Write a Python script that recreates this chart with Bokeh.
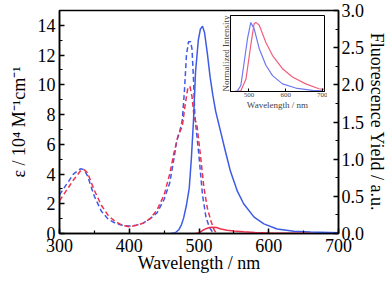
from bokeh.plotting import figure
from bokeh.models import Range1d, LinearAxis, SingleIntervalTicker, FixedTicker, PrintfTickFormatter
from bokeh.layouts import column
from bokeh.embed import file_html
from bokeh.resources import INLINE

# Absorption (epsilon, 10^4 M^-1 cm^-1), dashed
abs_b_wl = [300, 310, 320, 330, 335, 340, 350, 360, 370, 380, 390, 400, 410, 420, 430, 440, 450, 458, 464,
            468, 472, 476, 479, 482, 485, 488, 490, 492, 494, 496, 500, 505, 510, 515, 520]
abs_b = [2.6, 3.3, 4.0, 4.35, 4.3, 3.9, 2.5, 1.5, 0.95, 0.7, 0.55, 0.5, 0.55, 0.7, 1.0, 1.4, 2.3, 3.4, 5.0,
         6.2, 6.8, 7.6, 9.5, 12.0, 12.9, 12.9, 12.4, 10.5, 8.0, 7.0, 5.2, 2.6, 1.1, 0.4, 0.05]
abs_r_wl = [300, 310, 320, 330, 335, 340, 350, 360, 370, 380, 390, 400, 410, 420, 430, 440, 450, 458, 464,
            470, 476, 480, 484, 487, 490, 493, 497, 502, 507, 512, 517, 522, 526]
abs_r = [2.2, 2.9, 3.6, 4.2, 4.3, 4.1, 2.9, 1.9, 1.2, 0.8, 0.55, 0.45, 0.55, 0.7, 1.0, 1.6, 2.6, 4.0, 5.4,
         6.6, 7.2, 8.6, 9.8, 9.9, 9.2, 7.8, 7.3, 5.3, 3.1, 1.7, 0.85, 0.2, 0.0]

# Fluorescence yield (a.u.), solid
fl_b_wl = [460, 466, 471, 475, 478, 482, 486, 489, 492, 495, 499, 502, 505, 508, 512, 516, 520, 524, 531,
           538, 545, 555, 564, 579, 593, 612, 636, 660, 700]
fl_b = [0.0, 0.01, 0.05, 0.12, 0.21, 0.38, 0.61, 1.0, 1.5, 2.17, 2.6, 2.75, 2.79, 2.7, 2.42, 2.1, 1.85, 1.64, 1.37,
        1.1, 0.84, 0.57, 0.4, 0.22, 0.13, 0.06, 0.03, 0.02, 0.01]
fl_r_wl = [495, 500, 505, 510, 515, 520, 525, 530, 540, 550, 564, 580, 600, 630, 660]
fl_r = [0.0, 0.01, 0.04, 0.065, 0.08, 0.083, 0.08, 0.065, 0.045, 0.035, 0.025, 0.015, 0.008, 0.004, 0.002]

# Inset: normalized emission
in_b_wl = [460, 469, 478, 487, 496, 505, 514, 528, 546, 564, 591, 627, 672, 700]
in_b = [0.0, 0.01, 0.087, 0.42, 0.76, 1.0, 0.91, 0.62, 0.38, 0.23, 0.11, 0.05, 0.015, 0.01]
in_r_wl = [465, 478, 492, 505, 514, 519, 528, 546, 564, 591, 618, 654, 690, 705]
in_r = [0.0, 0.01, 0.18, 0.67, 0.98, 1.0, 0.96, 0.71, 0.52, 0.33, 0.21, 0.11, 0.04, 0.03]

BLUE = "#3e5be6"
RED = "#ee3050"
FONT = "Liberation Serif"

p = figure(width=390, height=281, x_range=Range1d(300, 700), y_range=Range1d(0, 15),
           output_backend="svg", toolbar_location=None,
           min_border_left=59, min_border_right=52, min_border_top=10, min_border_bottom=48)
p.frame_align = False
p.grid.visible = False
p.outline_line_color = "black"
p.outline_line_width = 1.5
p.background_fill_color = "white"
p.border_fill_color = "white"

p.extra_y_ranges = {"fl": Range1d(0, 3)}
raxis = LinearAxis(y_range_name="fl", axis_label="Fluorescence Yield / a.u.")
p.add_layout(raxis, "right")

p.xaxis.ticker = SingleIntervalTicker(interval=100, num_minor_ticks=2)
p.yaxis[0].ticker = SingleIntervalTicker(interval=2, num_minor_ticks=2)
raxis.ticker = SingleIntervalTicker(interval=0.5, num_minor_ticks=2)
raxis.formatter = PrintfTickFormatter(format="%.1f")

p.xaxis.axis_label = "Wavelength / nm"
p.yaxis[0].axis_label = "\u03b5 / 10\u2074 M\u207b\u00b9cm\u207b\u00b9"

for ax in [p.xaxis[0], p.yaxis[0], raxis]:
    ax.major_tick_in = 5
    ax.major_tick_out = 0
    ax.minor_tick_in = 3
    ax.minor_tick_out = 0
    ax.axis_line_width = 1.5
    ax.major_tick_line_width = 1.5
    ax.minor_tick_line_width = 1.2
    ax.major_label_text_font = FONT
    ax.major_label_text_font_size = "18px"
    ax.major_label_text_color = "black"
    ax.axis_label_text_font = FONT
    ax.axis_label_text_font_size = "18px"
    ax.axis_label_text_font_style = "normal"
    ax.axis_label_text_color = "black"
    ax.major_label_standoff = 4
    ax.axis_label_standoff = 6
p.xaxis[0].major_label_standoff = 5
p.xaxis[0].axis_label_standoff = -2
raxis.major_label_standoff = 3
raxis.axis_label_standoff = 0

p.line(abs_b_wl, abs_b, line_color=BLUE, line_width=1.5, line_dash="5 3")
p.line(abs_r_wl, abs_r, line_color=RED, line_width=1.5, line_dash="5 3")
p.line(fl_b_wl, fl_b, line_color=BLUE, line_width=1.5, y_range_name="fl")
p.line(fl_r_wl, fl_r, line_color=RED, line_width=1.5, y_range_name="fl")

# Inset
q = figure(frame_width=94, frame_height=76, x_range=Range1d(450, 705), y_range=Range1d(0, 1.1),
           output_backend="svg", toolbar_location=None,
           min_border_left=14, min_border_right=3, min_border_top=3, min_border_bottom=18)
q.frame_align = False
q.grid.visible = False
q.outline_line_color = "black"
q.outline_line_width = 1
q.background_fill_color = "white"
q.border_fill_alpha = 0
q.xaxis.ticker = FixedTicker(ticks=[500, 600, 700])
q.yaxis.ticker = FixedTicker(ticks=[])
q.xaxis.axis_label = "Wavelength / nm"
q.yaxis.axis_label = "Normalized Intensity"
for ax in [q.xaxis[0], q.yaxis[0]]:
    ax.major_tick_in = 3
    ax.major_tick_out = 0
    ax.minor_tick_in = 0
    ax.minor_tick_out = 0
    ax.axis_line_width = 1
    ax.major_label_text_font = FONT
    ax.major_label_text_font_size = "7px"
    ax.major_label_standoff = 1
    ax.axis_label_text_font = FONT
    ax.axis_label_text_font_size = "9px"
    ax.axis_label_text_font_style = "normal"
    ax.axis_label_standoff = 0
q.line(in_b_wl, in_b, line_color="#6f78f0", line_width=1.2)
q.line(in_r_wl, in_r, line_color="#f0607c", line_width=1.2)

q.styles = {"position": "absolute", "left": "216px", "top": "12px", "z-index": "5"}
layout = column(p, q)
layout.styles = {"position": "relative"}

open("out.html", "w").write(file_html(layout, INLINE))
